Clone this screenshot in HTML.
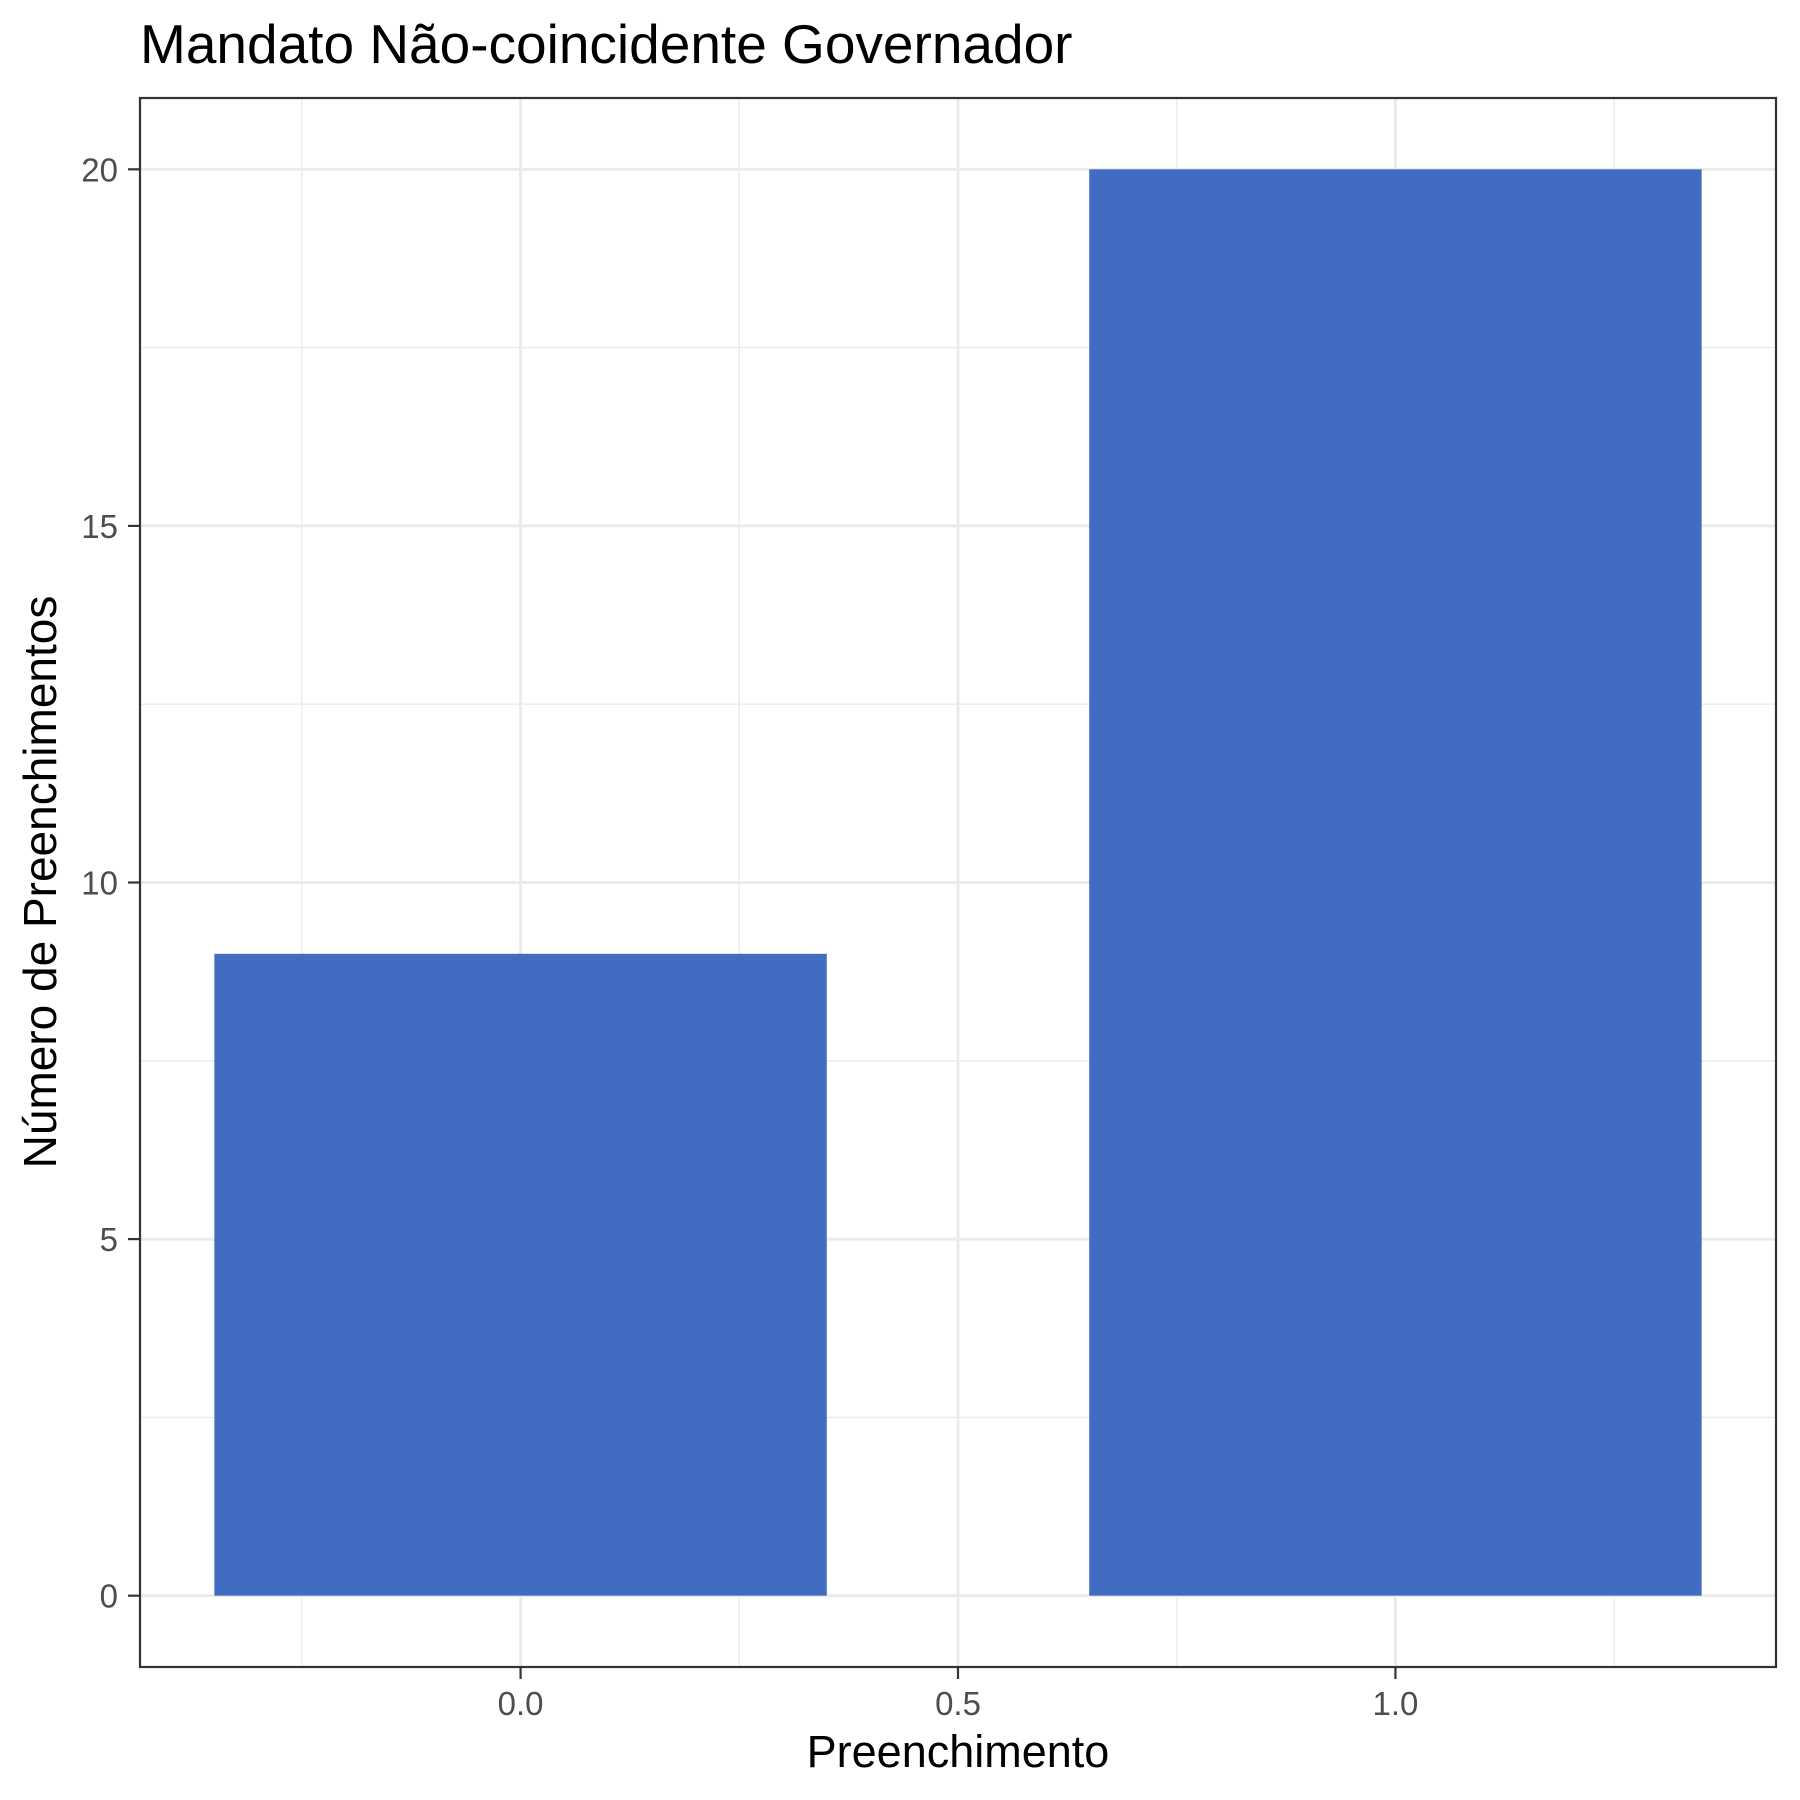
<!DOCTYPE html>
<html><head><meta charset="utf-8"><style>body{margin:0;background:#fff}svg{display:block;font-family:"Liberation Sans",Arial,sans-serif}</style></head>
<body>
<svg id="chart" width="1800" height="1800" viewBox="0 0 1800 1800">
<rect width="1800" height="1800" fill="#fff"/>
<text x="140" y="63" font-size="55" fill="#000">Mandato Não-coincidente Governador</text>
<g id="grid"></g><g id="bars"></g><g id="axes"></g>
<rect x="140" y="98" width="1636" height="1569" fill="none" stroke="#333" stroke-width="2.2"/>
<text x="958" y="1767" font-size="45" text-anchor="middle" fill="#000">Preenchimento</text>
<text transform="translate(56,882) rotate(-90)" font-size="46" text-anchor="middle" fill="#000">Número de Preenchimentos</text>
</svg>
<script>
const categories = [0, 1];
const counts = [9, 20];
const xTicks = [0, 0.5, 1];
const xTickLabels = ["0.0", "0.5", "1.0"];
const yTicks = [0, 5, 10, 15, 20];
const yTickLabels = ["0", "5", "10", "15", "20"];
const NS = "http://www.w3.org/2000/svg";
const L=140,T=98,R=1776,B=1667;
const xMin=-0.435,xMax=1.435,yMin=-1,yMax=21;
const xs=v=>L+(v-xMin)/(xMax-xMin)*(R-L);
const ys=v=>B-(v-yMin)/(yMax-yMin)*(B-T);
function mk(tag,attrs,parent){const e=document.createElementNS(NS,tag);for(const k in attrs)e.setAttribute(k,attrs[k]);parent.appendChild(e);return e;}
const grid=document.getElementById('grid'),bars=document.getElementById('bars'),axes=document.getElementById('axes');
[-0.25,0.25,0.75,1.25].forEach(v=>{const l=mk('line',{x1:xs(v),x2:xs(v),y1:T,y2:B,stroke:'#ebebeb','stroke-width':1.4},grid);

});
[2.5,7.5,12.5,17.5].forEach(v=>{const l=mk('line',{x1:L,x2:R,y1:ys(v),y2:ys(v),stroke:'#ebebeb','stroke-width':1.4},grid);

});
xTicks.forEach((v,i)=>{const l=mk('line',{x1:xs(v),x2:xs(v),y1:T,y2:B,stroke:'#ebebeb','stroke-width':3},grid);


const t=mk('line',{x1:xs(v),x2:xs(v),y1:B,y2:B+12,stroke:'#333','stroke-width':2.2},axes);


const tx=mk('text',{x:xs(v),y:1715,'font-size':33,'text-anchor':'middle',fill:'#4d4d4d'},axes);
tx.textContent=xTickLabels[i];

});
yTicks.forEach((v,i)=>{const l=mk('line',{x1:L,x2:R,y1:ys(v),y2:ys(v),stroke:'#ebebeb','stroke-width':3},grid);


const t=mk('line',{x1:L-12,x2:L,y1:ys(v),y2:ys(v),stroke:'#333','stroke-width':2.2},axes);


const tx=mk('text',{x:118,y:ys(v)+12,'font-size':33,'text-anchor':'end',fill:'#4d4d4d'},axes);
tx.textContent=yTickLabels[i];

});
categories.forEach((c,i)=>{const x0=xs(c-0.35),x1=xs(c+0.35),y0=ys(counts[i]),y1=ys(0);
const r=mk('rect',{x:x0,y:y0,width:x1-x0,height:y1-y0,fill:'#416cc1'},bars);

});
</script>
</body></html>
